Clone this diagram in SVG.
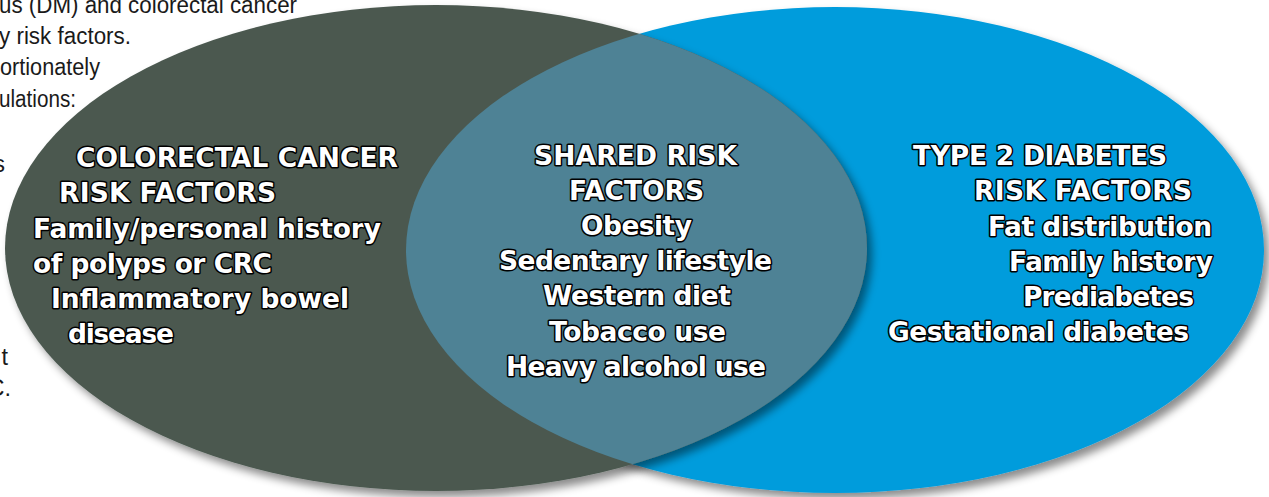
<svg xmlns="http://www.w3.org/2000/svg" width="1269" height="497" viewBox="0 0 1269 497">
  <style>
    .bg { font-family: "Liberation Sans", Arial, sans-serif; font-size: 23.5px; fill: #1a1a1a; }
    .lbl { font-family: "DejaVu Sans", Verdana, sans-serif; font-weight: bold; font-size: 26.5px;
           fill: #ffffff; stroke: #000000; stroke-width: 3px; stroke-linejoin: round; paint-order: stroke; }
  </style>
  <defs>
    <filter id="shadow" x="-5%" y="-5%" width="115%" height="120%">
      <feDropShadow dx="5" dy="6" stdDeviation="4" flood-color="#000000" flood-opacity="0.45"/>
    </filter>
    <clipPath id="leftClip">
      <ellipse cx="436" cy="248" rx="431" ry="243"/>
    </clipPath>
  </defs>

  <rect width="1269" height="497" fill="#ffffff"/>

  <!-- slide body text partly covered by the circles -->
  <g id="body-text" class="bg" text-anchor="end">
    <text x="297" y="13" textLength="298" lengthAdjust="spacingAndGlyphs">us (DM) and colorectal cancer</text>
    <text x="131" y="44" textLength="132" lengthAdjust="spacingAndGlyphs">y risk factors.</text>
    <text x="100" y="75" textLength="100" lengthAdjust="spacingAndGlyphs">ortionately</text>
    <text x="76" y="107" textLength="77" lengthAdjust="spacingAndGlyphs">ulations:</text>
    <text x="5" y="172">s</text>
    <text x="8" y="365">t</text>
    <text x="11" y="396">C.</text>
  </g>

  <!-- type 2 diabetes circle -->
  <g id="t2d">
    <ellipse cx="835" cy="250" rx="429" ry="243" fill="#019cdc" filter="url(#shadow)"/>
  </g>

  <!-- colorectal cancer circle -->
  <g id="crc">
    <ellipse cx="436" cy="248" rx="431" ry="243" fill="#4b5950" filter="url(#shadow)"/>
  </g>

  <!-- overlap of the two circles -->
  <g id="shared">
    <ellipse cx="835" cy="250" rx="429" ry="243" fill="#4e8295" clip-path="url(#leftClip)"/>
  </g>

  <g id="crc-labels" class="lbl">
    <text x="76" y="167" textLength="322" lengthAdjust="spacing">COLORECTAL CANCER</text>
    <text x="59" y="202" textLength="217" lengthAdjust="spacing">RISK FACTORS</text>
    <text x="33" y="238" textLength="348" lengthAdjust="spacing">Family/personal history</text>
    <text x="33" y="273" textLength="239" lengthAdjust="spacing">of polyps or CRC</text>
    <text x="51" y="308" textLength="298" lengthAdjust="spacing">Inflammatory bowel</text>
    <text x="68" y="343" textLength="106" lengthAdjust="spacing">disease</text>
  </g>

  <g id="shared-labels" class="lbl">
    <text x="534" y="165" textLength="203" lengthAdjust="spacing">SHARED RISK</text>
    <text x="569" y="200" textLength="135" lengthAdjust="spacing">FACTORS</text>
    <text x="581" y="235" textLength="111" lengthAdjust="spacing">Obesity</text>
    <text x="499" y="270" textLength="273" lengthAdjust="spacing">Sedentary lifestyle</text>
    <text x="543" y="305" textLength="188" lengthAdjust="spacing">Western diet</text>
    <text x="549" y="341" textLength="177" lengthAdjust="spacing">Tobacco use</text>
    <text x="506" y="376" textLength="260" lengthAdjust="spacing">Heavy alcohol use</text>
  </g>

  <g id="t2d-labels" class="lbl">
    <text x="913" y="165" textLength="254" lengthAdjust="spacing">TYPE 2 DIABETES</text>
    <text x="974" y="200" textLength="218" lengthAdjust="spacing">RISK FACTORS</text>
    <text x="988" y="236" textLength="224" lengthAdjust="spacing">Fat distribution</text>
    <text x="1009" y="271" textLength="204" lengthAdjust="spacing">Family history</text>
    <text x="1023" y="306" textLength="171" lengthAdjust="spacing">Prediabetes</text>
    <text x="888" y="341" textLength="301" lengthAdjust="spacing">Gestational diabetes</text>
  </g>
</svg>
